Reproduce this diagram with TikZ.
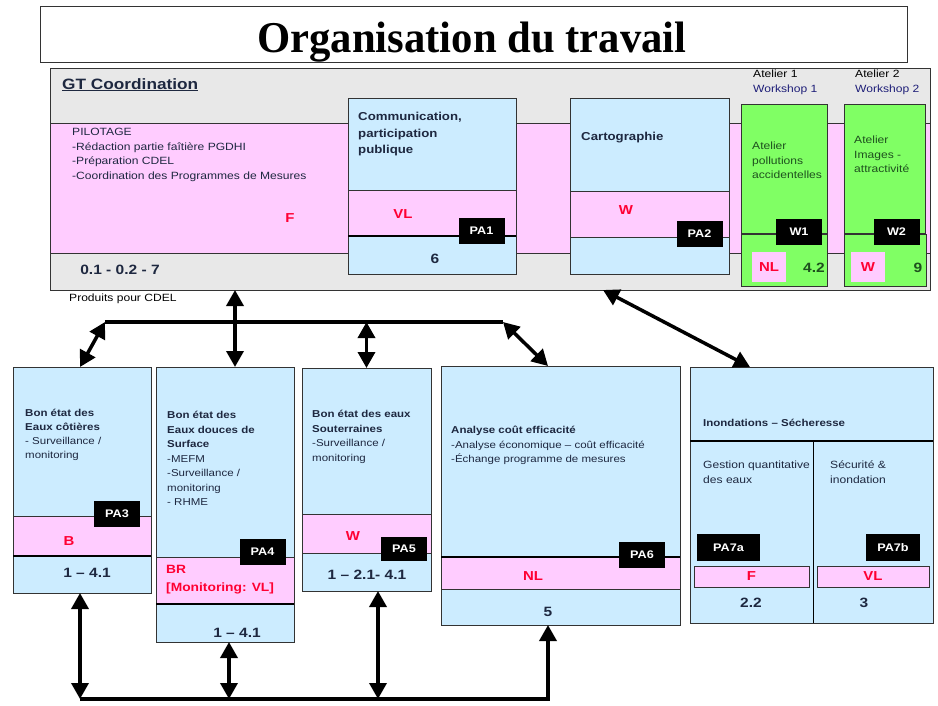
\documentclass[tikz,border=0pt]{standalone}
\usepackage{fontspec}
\setmainfont{Liberation Sans}[FakeStretch=1.15]
\newfontfamily\titlefont{Liberation Serif}[FakeStretch=0.97]
\usetikzlibrary{arrows.meta,calc}

\definecolor{gtgrey}{RGB}{232,232,232}
\definecolor{pinkband}{RGB}{255,204,255}
\definecolor{skyfill}{RGB}{204,236,255}
\definecolor{atgreen}{RGB}{128,255,100}
\definecolor{codered}{RGB}{255,0,51}
\definecolor{labelnavy}{RGB}{30,40,64}
\definecolor{atdark}{RGB}{30,80,30}
\definecolor{wsblue}{RGB}{30,30,120}

\newcommand{\fsz}[2]{\fontsize{#1}{#2}\selectfont}

\tikzset{
  frame/.style={draw=black!80, line width=0.9pt, anchor=north west, inner sep=0pt, outer sep=0pt},
  greybox/.style={frame, fill=gtgrey},
  pinkbox/.style={frame, fill=pinkband},
  skybox/.style={frame, fill=skyfill},
  greenbox/.style={frame, fill=atgreen},
  tag/.style={fill=black, text=white, font=\bfseries\fsz{11}{11}, inner sep=0pt,
    minimum width=46, minimum height=26},
  code/.style={text=codered, font=\bfseries\fsz{13}{13}, inner sep=0pt},
  num/.style={text=labelnavy, font=\bfseries\fsz{13.5}{13.5}, inner sep=0pt},
  txt/.style={anchor=north west, align=left, inner sep=0pt, text=labelnavy, font=\fsz{10.5}{14.5}},
  head/.style={txt, font=\bfseries\fsz{11.5}{16.5}},
  link/.style={line width=3.5pt, {Triangle[length=16pt,width=17pt]}-{Triangle[length=16pt,width=17pt]}},
  bus/.style={line width=3.5pt},
  sepline/.style={line width=1.8pt}
}

\begin{document}
\begin{tikzpicture}[x=1pt,y=-1pt]
  \useasboundingbox (0,0) rectangle (938,706);

  \node[frame, minimum width=867, minimum height=56] (title) at (40,6) {};
  \node[anchor=base, inner sep=0pt, font=\titlefont\bfseries\fsz{44}{44}] (titletxt) at (472,53) {Organisation du travail};

  % coordination
  \node[greybox, minimum width=880, minimum height=222] (gt) at (50,68) {};
  \node[pinkbox, minimum width=880, minimum height=130] (pilot) at (50,123) {};
  \node[head, font=\bfseries\fsz{15}{18}] (gtname) at ($(gt.north west)+(12,10)$) {\underline{GT Coordination}};
  \node[txt] (pilotxt) at ($(pilot.north west)+(22,5)$) {PILOTAGE\\-Rédaction partie faîtière PGDHI\\-Préparation CDEL\\-Coordination des Programmes de Mesures};
  \node[code] (fgt) at (290,218) {F};
  \node[num] (numgt) at (120,270) {0.1 - 0.2 - 7};
  \node[txt, text=black] (cdel) at ($(gt.south west)+(19,4)$) {Produits pour CDEL};

  \node[skybox, minimum width=168, minimum height=176] (pa1) at (348,98) {};
  \node[pinkbox, minimum width=168, minimum height=46] (pa1c) at (348,190) {};
  \draw[sepline] (pa1c.south west) -- (pa1c.south east);
  \node[head] (pa1txt) at ($(pa1.north west)+(10,14)$) {Communication,\\participation\\publique};
  \node[code] (vl1) at (403,214) {VL};
  \node[tag] (t1) at (481.5,231) {PA1};
  \node[num] (n1) at (435,259) {6};

  \node[skybox, minimum width=159, minimum height=176] (pa2) at (570,98) {};
  \node[pinkbox, minimum width=159, minimum height=46] (pa2c) at (570,191) {};
  \node[head] (pa2txt) at ($(pa2.north west)+(11,34)$) {Cartographie};
  \node[code] (w2c) at (626,210) {W};
  \node[tag] (t2) at (699.5,234) {PA2};

  % ateliers
  \node[txt, text=black] (at1) at (753,70) {Atelier 1\\\textcolor{wsblue}{Workshop 1}};
  \node[txt, text=black] (at2) at (855,70) {Atelier 2\\\textcolor{wsblue}{Workshop 2}};
  \node[greenbox, minimum width=86, minimum height=129] (w1) at (741,104) {};
  \node[greenbox, minimum width=86, minimum height=52] (w1b) at (741,234) {};
  \node[txt, text=atdark] (w1txt) at ($(w1.north west)+(11,38)$) {Atelier\\pollutions\\accidentelles};
  \node[tag] (tw1) at (799,232) {W1};
  \node[pinkbox, draw=none, minimum width=34, minimum height=30, font=\bfseries\fsz{13}{13}, text=codered] (nlw1) at (752,252) {NL};
  \node[num, text=atdark] (n42) at (814,268) {4.2};

  \node[greenbox, minimum width=81, minimum height=129] (w2) at (844,104) {};
  \node[greenbox, minimum width=82, minimum height=52] (w2b) at (844,234) {};
  \node[txt, text=atdark] (w2txt) at ($(w2.north west)+(10,32)$) {Atelier\\Images -\\attractivité};
  \node[tag] (tw2) at (896.5,232) {W2};
  \node[pinkbox, draw=none, minimum width=34, minimum height=30, font=\bfseries\fsz{13}{13}, text=codered] (ww2) at (851,252) {W};
  \node[num, text=atdark] (n9) at (918,268) {9};

  % plans d'action
  \node[skybox, minimum width=138, minimum height=226] (pa3) at (13,367) {};
  \node[pinkbox, minimum width=138, minimum height=40] (pa3c) at (13,516) {};
  \draw[sepline] (pa3c.south west) -- (pa3c.south east);
  \node[txt, font=\fsz{10}{14}] (pa3txt) at ($(pa3.north west)+(12,42)$) {\textbf{Bon état des}\\\textbf{Eaux côtières}\\- Surveillance /\\monitoring};
  \node[tag] (t3) at (117,514) {PA3};
  \node[code] (b3) at (69,541) {B};
  \node[num] (n3) at (87,573) {1 -- 4.1};

  \node[skybox, minimum width=138, minimum height=275] (pa4) at (156,367) {};
  \node[pinkbox, minimum width=138, minimum height=47] (pa4c) at (156,557) {};
  \draw[sepline] (pa4c.south west) -- (pa4c.south east);
  \node[txt, font=\fsz{10}{14.5}] (pa4txt) at ($(pa4.north west)+(11,44)$) {\textbf{Bon état des}\\\textbf{Eaux douces de}\\\textbf{Surface}\\-MEFM\\-Surveillance /\\monitoring\\- RHME};
  \node[tag] (t4) at (262.5,552) {PA4};
  \node[txt, text=codered, font=\bfseries\fsz{12}{18}] (br4) at (166,565) {BR\\{}[Monitoring: VL]};
  \node[num] (n4) at (237,633) {1 -- 4.1};

  \node[skybox, minimum width=129, minimum height=223] (pa5) at (302,368) {};
  \node[pinkbox, minimum width=129, minimum height=39] (pa5c) at (302,514) {};
  \node[txt, font=\fsz{10}{14.5}] (pa5txt) at ($(pa5.north west)+(10,42)$) {\textbf{Bon état des eaux}\\\textbf{Souterraines}\\-Surveillance /\\monitoring};
  \node[code] (w5) at (353,536) {W};
  \node[tag, minimum height=24] (t5) at (404,549) {PA5};
  \node[num] (n5) at (367,575) {1 -- 2.1- 4.1};

  \node[skybox, minimum width=239, minimum height=259] (pa6) at (441,366) {};
  \node[pinkbox, minimum width=239, minimum height=32] (pa6c) at (441,557) {};
  \draw[sepline] (pa6c.north west) -- (pa6c.north east);
  \node[txt, font=\fsz{10}{14.5}] (pa6txt) at ($(pa6.north west)+(10,60)$) {\textbf{Analyse coût efficacité}\\-Analyse économique -- coût efficacité\\-Échange programme de mesures};
  \node[tag] (t6) at (642,554.5) {PA6};
  \node[code] (nl6) at (533,576) {NL};
  \node[num] (n6) at (548,612) {5};

  \node[skybox, minimum width=243, minimum height=256] (pa7) at (690,367) {};
  \draw[line width=1.2pt] (690,441) coordinate (s7l) -- (933,441) coordinate (s7r);
  \draw[line width=0.9pt] (813,441) coordinate (d7t) -- (pa7.south -| d7t);
  \node[txt, font=\bfseries\fsz{10}{14.5}] (pa7txt) at ($(pa7.north west)+(13,52)$) {Inondations -- Sécheresse};
  \node[txt] (pa7a) at (703,461) {Gestion quantitative\\des eaux};
  \node[txt] (pa7b) at (830,461) {Sécurité \&\\inondation};
  \node[tag, minimum width=63, minimum height=27] (t7a) at (728.5,547.5) {PA7a};
  \node[tag, minimum width=54, minimum height=27] (t7b) at (893,547.5) {PA7b};
  \node[pinkbox, minimum width=115, minimum height=21, font=\bfseries\fsz{13}{13}, text=codered] (f7) at (694,566) {F};
  \node[pinkbox, minimum width=112, minimum height=21, font=\bfseries\fsz{13}{13}, text=codered] (vl7) at (817,566) {VL};
  \node[num] (n7a) at (751,603) {2.2};
  \node[num] (n7b) at (864,603) {3};

  % liaisons
  \coordinate (busL) at (105,322);
  \coordinate (busR) at (503,322);
  \coordinate (busB) at (80,699);
  \coordinate (busE) at (548,699);
  \coordinate (c4) at (235,0);
  \coordinate (c4b) at (229,0);
  \coordinate (c5b) at (378,0);
  \coordinate (c7) at (603,0);
  \coordinate (c7b) at (750,0);

  \draw[link] (gt.south -| c4) -- (pa4.north -| c4);
  \draw[bus] (busL) -- (busR);
  \draw[link] (busL) -- (pa3.north -| busB);
  \draw[link] (busL -| pa5.north) -- (pa5.north);
  \draw[link] (busR) -- (pa6.north -| busE);
  \draw[link] (gt.south -| c7) -- (pa7.north -| c7b);

  \draw[bus, -{Triangle[length=16pt,width=17pt]}] (busB) -- (busE) -- (pa6.south -| busE);
  \draw[link] (pa3.south -| busB) -- (busB);
  \draw[link] (pa4.south -| c4b) -- (busB -| c4b);
  \draw[link] (pa5.south -| c5b) -- (busB -| c5b);
\end{tikzpicture}
\end{document}
